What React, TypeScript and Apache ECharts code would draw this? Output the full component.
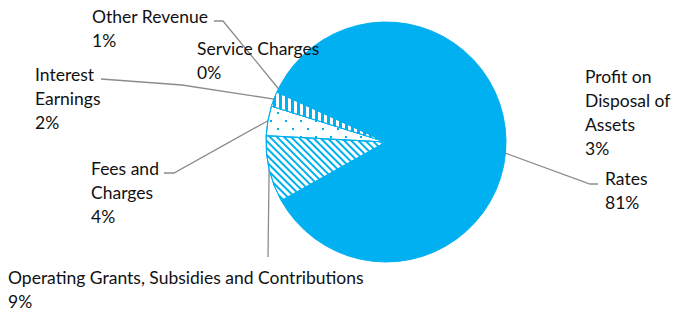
import React, { useEffect, useRef } from "react";
import * as echarts from "echarts";

const categories = [
  "Rates",
  "Operating Grants, Subsidies and Contributions",
  "Fees and Charges",
  "Interest Earnings",
  "Other Revenue",
  "Service Charges",
  "Profit on Disposal of Assets",
];
const labelNames = [
  "Rates",
  "Operating Grants, Subsidies and Contributions",
  "Fees and\nCharges",
  "Interest\nEarnings",
  "Other Revenue",
  "Service Charges",
  "Profit on\nDisposal of\nAssets",
];
const values = [81, 9, 4, 2, 1, 0.3, 3];

const BLUE = "#00B0F0";

// label layout: [left x, top y, leader points toward text]
const labelPos: { x: number; y: number; line: number[][] | null }[] = [
  { x: 605, y: 166, line: [[590, 184], [598, 184]] },
  { x: 8, y: 265, line: [[268, 257]] },
  { x: 91, y: 156, line: [[174, 173], [164, 173]] },
  { x: 35, y: 62, line: [[182, 85], [101, 79]] },
  { x: 92, y: 4, line: [[223, 21], [214, 21]] },
  { x: 197, y: 36, line: null },
  { x: 585, y: 64, line: null },
];

const fills: any[] = [
  { color: BLUE },
  {
    color: "#fff",
    decal: {
      symbol: "rect",
      color: BLUE,
      dashArrayX: [1, 0],
      dashArrayY: [2, 3],
      rotation: Math.PI / 4,
      symbolSize: 1,
    },
  },
  {
    color: "#fff",
    decal: {
      symbol: "rect",
      color: BLUE,
      dashArrayX: [[2, 13], [0, 7, 2, 6]],
      dashArrayY: [2, 6],
      rotation: 0,
      symbolSize: 1,
    },
  },
  {
    color: BLUE,
    decal: {
      symbol: "rect",
      color: "#fff",
      dashArrayX: [3, 3],
      dashArrayY: [1, 0],
      rotation: 0,
      symbolSize: 1,
    },
  },
  { color: BLUE },
  { color: BLUE },
  { color: BLUE },
];

export default function App() {
  const ref = useRef<HTMLDivElement>(null);
  useEffect(() => {
    document.body.style.margin = "0";
    const chart = echarts.init(ref.current!, null, { renderer: "svg" });
    const total = values.reduce((a, b) => a + b, 0);
    const data = categories.map((name, i) => ({
      name,
      value: values[i],
      itemStyle: { ...fills[i], borderColor: BLUE, borderWidth: 1 },
      label: { formatter: () => `${labelNames[i]}\n${Math.round((values[i] / total) * 100)}%` },
      labelLine: { show: !!labelPos[i].line },
    }));
    chart.setOption({
      animation: false,
      backgroundColor: "#fff",
      series: [
        {
          type: "pie",
          center: [386, 142],
          radius: 120,
          startAngle: 140,
          clockwise: true,
          avoidLabelOverlap: false,
          data,
          label: {
            show: true,
            position: "outside",
            fontFamily: "Lato",
            fontSize: 17.5,
            lineHeight: 24,
            color: "#111",
          },
          labelLine: {
            show: true,
            lineStyle: { color: "#8c8c8c", width: 1.3 },
          },
          labelLayout: (params: any) => {
            const p = labelPos[params.dataIndex];
            const res: any = { x: p.x, y: p.y, align: "left", verticalAlign: "top" };
            if (p.line && params.labelLinePoints) {
              res.labelLinePoints = [params.labelLinePoints[0], ...p.line];
            }
            return res;
          },
        },
      ],
    });
    return () => chart.dispose();
  }, []);
  return <div ref={ref} style={{ width: 673, height: 312 }} />;
}
